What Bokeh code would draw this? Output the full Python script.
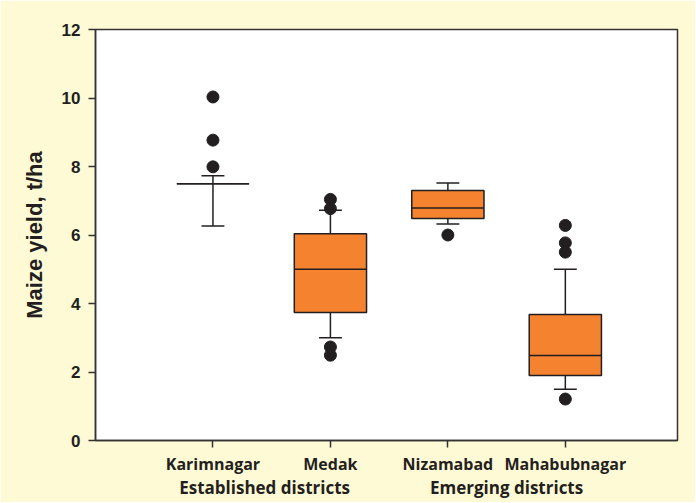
from bokeh.plotting import figure
from bokeh.models import Range1d, FixedTicker, LinearAxis
from bokeh.embed import file_html
from bokeh.resources import INLINE

# ---- data ----
categories = ["Karimnagar", "Medak", "Nizamabad", "Mahabubnagar"]
positions = [1, 2, 3, 4]
groups = ["Established districts", "Emerging districts"]
group_positions = [1.44, 3.5]

q1 = [7.50, 3.74, 6.48, 1.90]
median = [7.50, 5.00, 6.79, 2.48]
q3 = [7.50, 6.04, 7.30, 3.68]
whisker_low = [6.26, 3.00, 6.32, 1.50]
whisker_high = [7.73, 6.72, 7.52, 5.00]

outliers_karimnagar = [10.03, 8.77, 7.99]
outliers_medak = [7.04, 6.77, 2.73, 2.49]
outliers_nizamabad = [6.00]
outliers_mahabubnagar = [6.28, 5.77, 5.50, 1.21]

y_ticks = [0, 2, 4, 6, 8, 10, 12]

# ---- styling ----
BOX_W = 0.615
CAP_W = 0.195
ORANGE = "#F5822F"
DARK = "#231F20"
YELLOW = "#FFFAD6"

p = figure(frame_width=582, frame_height=411,
           x_range=Range1d(0, 4.955), y_range=Range1d(0, 12),
           output_backend="svg", toolbar_location=None,
           min_border_left=95, min_border_top=29,
           min_border_right=18, min_border_bottom=62)

p.background_fill_color = "white"
p.border_fill_color = YELLOW
p.outline_line_color = "#333333"
p.outline_line_width = 1.5
p.grid.visible = False

# whiskers
p.segment(x0=positions, y0=q3, x1=positions, y1=whisker_high, line_color=DARK, line_width=1.5)
p.segment(x0=positions, y0=q1, x1=positions, y1=whisker_low, line_color=DARK, line_width=1.5)
cap_l = [x - CAP_W / 2 for x in positions]
cap_r = [x + CAP_W / 2 for x in positions]
p.segment(x0=cap_l, y0=whisker_high, x1=cap_r, y1=whisker_high, line_color=DARK, line_width=1.5)
p.segment(x0=cap_l, y0=whisker_low, x1=cap_r, y1=whisker_low, line_color=DARK, line_width=1.5)

# boxes
p.vbar(x=positions, width=BOX_W, bottom=q1, top=q3,
       fill_color=ORANGE, line_color=DARK, line_width=1.5)
box_l = [x - BOX_W / 2 for x in positions]
box_r = [x + BOX_W / 2 for x in positions]
p.segment(x0=box_l, y0=median, x1=box_r, y1=median, line_color=DARK, line_width=1.5)

# outliers
out_x, out_y = [], []
for xpos, vals in zip(positions, [outliers_karimnagar, outliers_medak,
                                  outliers_nizamabad, outliers_mahabubnagar]):
    out_x += [xpos] * len(vals)
    out_y += vals
p.scatter(x=out_x, y=out_y, size=12, fill_color=DARK, line_color=DARK)

# y axis
ya = p.yaxis[0]
ya.ticker = FixedTicker(ticks=y_ticks)
ya.minor_tick_line_color = None
ya.major_tick_in = 0
ya.major_tick_out = 7
ya.axis_line_color = "#333333"
ya.axis_line_width = 1.5
ya.major_tick_line_color = "#333333"
ya.major_tick_line_width = 1.5
ya.major_label_text_font = "Liberation Sans"
ya.major_label_text_font_style = "bold"
ya.major_label_text_font_size = "17px"
ya.major_label_text_color = DARK
ya.major_label_standoff = 8
ya.axis_label = "Maize yield, t/ha"
ya.axis_label_text_font = "Liberation Sans"
ya.axis_label_text_font_style = "bold"
ya.axis_label_text_font_size = "22px"
ya.axis_label_text_color = DARK
ya.axis_label_standoff = 12

# x axis (districts)
xa = p.xaxis[0]
xa.ticker = FixedTicker(ticks=positions)
xa.major_label_overrides = {k: v for k, v in zip(positions, categories)}
xa.minor_tick_line_color = None
xa.major_tick_in = 0
xa.major_tick_out = 7
xa.axis_line_color = "#333333"
xa.axis_line_width = 1.5
xa.major_tick_line_color = "#333333"
xa.major_tick_line_width = 1.5
xa.major_label_text_font = "Open Sans"
xa.major_label_text_font_style = "bold"
xa.major_label_text_font_size = "16px"
xa.major_label_text_color = DARK
xa.major_label_standoff = 5

# second axis (groups)
ga = LinearAxis(ticker=FixedTicker(ticks=group_positions),
                major_label_overrides={k: v for k, v in zip(group_positions, groups)})
ga.axis_line_color = None
ga.major_tick_line_color = None
ga.minor_tick_line_color = None
ga.major_tick_out = 0
ga.major_tick_in = 0
ga.major_label_text_font = "Open Sans"
ga.major_label_text_font_style = "bold"
ga.major_label_text_font_size = "17px"
ga.major_label_text_color = DARK
ga.major_label_standoff = -2
p.add_layout(ga, "below")

open("out.html", "w").write(file_html(p, INLINE))
